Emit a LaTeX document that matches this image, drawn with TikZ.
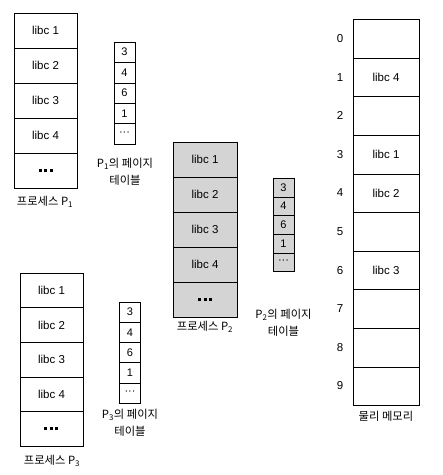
\documentclass[tikz,border=0pt]{standalone}
\usepackage{fontspec}
\setmainfont{Liberation Sans}
\newfontfamily\kr{Noto Sans CJK KR}
\newcommand\segdots{\rule{3pt}{3pt}\hspace{2.5pt}\rule{3pt}{3pt}\hspace{2.5pt}\rule{3pt}{3pt}}
\tikzset{
  seg/.style={draw, minimum width=63pt, minimum height=35pt, inner sep=0pt, font=\fontsize{11.5}{13}\selectfont},
  pte/.style={draw, minimum width=21pt, minimum height=20.4pt, inner sep=0pt, font=\fontsize{11}{12}\selectfont},
  frame/.style={draw, minimum width=66pt, minimum height=38.6pt, inner sep=0pt, font=\fontsize{11.5}{13}\selectfont},
  shade/.style={fill=black!17},
  caption/.style={align=center, inner sep=0pt, font=\kr\fontsize{11.3}{17}\selectfont}
}
\begin{document}
\begin{tikzpicture}[x=1pt, y=-1pt]
\useasboundingbox (0,0) rectangle (443,475);
% process P1 and its page table
\foreach \t [count=\i] in {libc 1,libc 2,libc 3,libc 4,\segdots}
  \node[seg] (pa\i) at (45.5,13+35*\i-17.5) {\t};
\node[caption] (pacap) at (45,202) {프로세스 P\textsubscript{1}};
\foreach \t [count=\i] in {3,4,6,1,···}
  \node[pte, minimum height=20.4pt] (ta\i) at (124.5,42+20.4*\i-10.2) {\t};
\node[caption] (tacap) at (125,171.5) {P\textsubscript{1}의 페이지\\테이블};
% process P2 and its page table
\foreach \t [count=\i] in {libc 1,libc 2,libc 3,libc 4,\segdots}
  \node[seg, shade, minimum width=64pt] (pb\i) at (205,142+35*\i-17.5) {\t};
\node[caption] (pbcap) at (205,327) {프로세스 P\textsubscript{2}};
\foreach \t [count=\i] in {3,4,6,1,···}
  \node[pte, shade, minimum height=18.7pt] (tb\i) at (283.5,178+18.7*\i-9.35) {\t};
\node[caption] (tbcap) at (283.5,322.5) {P\textsubscript{2}의 페이지\\테이블};
% process P3 and its page table
\foreach \t [count=\i] in {libc 1,libc 2,libc 3,libc 4,\segdots}
  \node[seg, minimum height=34.6pt] (pc\i) at (51.5,273+34.6*\i-17.3) {\t};
\node[caption] (pccap) at (52,461) {프로세스 P\textsubscript{3}};
\foreach \t [count=\i] in {3,4,6,1,···}
  \node[pte, minimum height=20.2pt] (tc\i) at (130,302+20.2*\i-10.1) {\t};
\node[caption] (tccap) at (130,423) {P\textsubscript{3}의 페이지\\테이블};
% physical memory
\foreach \t [count=\i from 0] in {,libc 4,,libc 1,libc 2,,libc 3,,,}
  \node[frame] (m\i) at (386,19.3+38.6*\i+19.3) {\t};
\foreach \i in {0,...,9}
  \node[font=\fontsize{11.5}{13}\selectfont, anchor=east] (n\i) at ([xshift=-6pt]m\i.west) {\i};
\node[caption] (mcap) at (386,416) {물리 메모리};
\end{tikzpicture}
\end{document}
